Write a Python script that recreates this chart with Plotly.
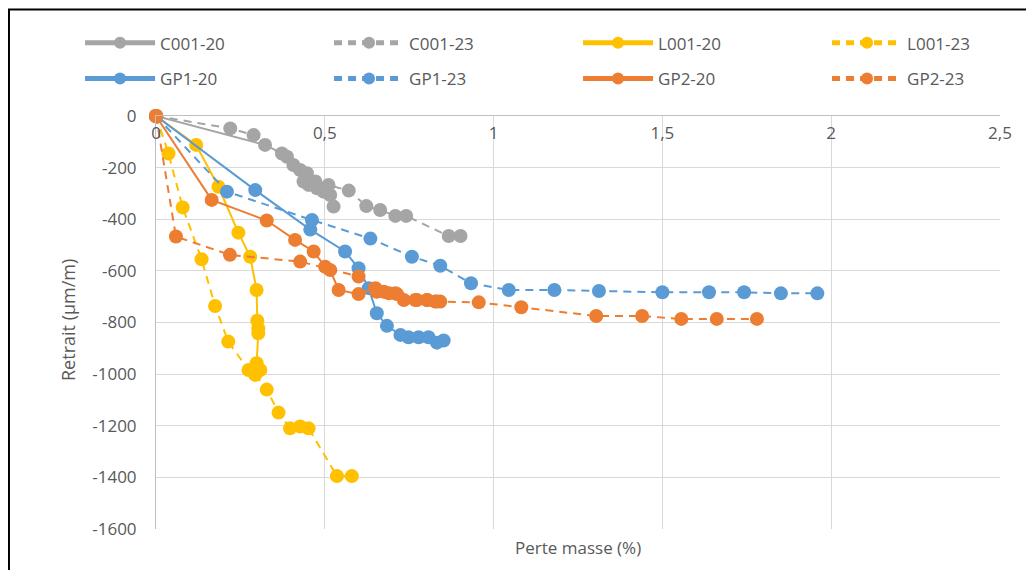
import plotly.graph_objects as go

# ---- data ----
c001_20_x = [0, 0.323, 0.373, 0.388, 0.407, 0.427, 0.437, 0.452, 0.477, 0.496, 0.516, 0.526]
c001_20_y = [0, -112, -145, -158, -190, -209, -254, -267, -280, -293, -306, -351]
c001_23_x = [0, 0.22, 0.289, 0.447, 0.472, 0.511, 0.571, 0.623, 0.664, 0.709, 0.741, 0.867, 0.902]
c001_23_y = [0, -48, -74, -222, -254, -267, -289, -349, -364, -387, -387, -465, -465]

l001_20_x = [0, 0.119, 0.185, 0.244, 0.279, 0.298, 0.300, 0.303, 0.303, 0.298, 0.309]
l001_20_y = [0, -112, -274, -452, -545, -674, -793, -823, -842, -958, -984]
l001_23_x = [0, 0.037, 0.079, 0.135, 0.175, 0.214, 0.274, 0.294, 0.328, 0.363, 0.397, 0.427, 0.452, 0.536, 0.58]
l001_23_y = [0, -145, -354, -555, -736, -874, -984, -1003, -1060, -1149, -1210, -1203, -1210, -1395, -1395]

gp1_20_x = [0, 0.294, 0.457, 0.56, 0.6, 0.63, 0.654, 0.684, 0.724, 0.748, 0.778, 0.807, 0.832, 0.852]
gp1_20_y = [0, -287, -440, -525, -590, -667, -764, -813, -848, -857, -857, -857, -878, -870]
gp1_23_x = [0, 0.21, 0.462, 0.635, 0.758, 0.842, 0.933, 1.045, 1.18, 1.312, 1.5, 1.638, 1.742, 1.851, 1.959]
gp1_23_y = [0, -293, -403, -475, -545, -580, -648, -674, -674, -678, -683, -683, -683, -687, -687]

gp2_20_x = [0, 0.165, 0.328, 0.412, 0.467, 0.501, 0.516, 0.541, 0.6, 0.65, 0.675, 0.709, 0.734, 0.773, 0.803, 0.827, 0.842]
gp2_20_y = [0, -325, -405, -480, -525, -584, -597, -674, -690, -667, -681, -687, -713, -713, -713, -719, -719]
gp2_23_x = [0, 0.059, 0.219, 0.427, 0.6, 0.654, 0.69, 0.714, 0.768, 0.803, 0.832, 0.956, 1.082, 1.304, 1.44, 1.556, 1.661, 1.78]
gp2_23_y = [0, -467, -538, -564, -622, -681, -687, -690, -713, -713, -719, -722, -741, -775, -775, -786, -786, -786]

x_tick_vals = [0, 0.5, 1, 1.5, 2, 2.5]
x_tick_text = ["0", "0,5", "1", "1,5", "2", "2,5"]
y_tick_vals = [0, -200, -400, -600, -800, -1000, -1200, -1400, -1600]
y_tick_text = ["0", "-200", "-400", "-600", "-800", "-1000", "-1200", "-1400", "-1600"]

GRAY = "#A5A5A5"
YELLOW = "#FFC000"
BLUE = "#5B9BD5"
ORANGE = "#ED7D31"
TXT = "#595959"
FONT = "Open Sans, Liberation Sans, sans-serif"

series = [
    ("C001-20", c001_20_x, c001_20_y, GRAY, "solid", "legend"),
    ("C001-23", c001_23_x, c001_23_y, GRAY, "8px,6px", "legend"),
    ("L001-20", l001_20_x, l001_20_y, YELLOW, "solid", "legend"),
    ("L001-23", l001_23_x, l001_23_y, YELLOW, "8px,6px", "legend"),
    ("GP1-20", gp1_20_x, gp1_20_y, BLUE, "solid", "legend2"),
    ("GP1-23", gp1_23_x, gp1_23_y, BLUE, "8px,6px", "legend2"),
    ("GP2-20", gp2_20_x, gp2_20_y, ORANGE, "solid", "legend2"),
    ("GP2-23", gp2_23_x, gp2_23_y, ORANGE, "8px,6px", "legend2"),
]

fig = go.Figure()
for i, (name, xs, ys, col, dash, lg) in enumerate(series):
    last_in_row = name in ("L001-23", "GP2-23")
    fig.add_trace(go.Scatter(
        x=xs, y=ys, name=name, mode="lines+markers",
        line=dict(color=col, width=2, dash=dash),
        marker=dict(color=col, size=14),
        cliponaxis=False, legend=lg,
        legendwidth=60 if last_in_row else None,
    ))

legend_common = dict(
    orientation="h", xanchor="left", yanchor="middle",
    font=dict(family=FONT, size=17, color=TXT),
    itemwidth=70, entrywidth=164, entrywidthmode="pixels",
    bgcolor="rgba(0,0,0,0)", itemsizing="constant",
)

# figure is drawn inside a page whose body has an 8px margin
fig.update_layout(
    width=1026, height=562,
    margin=dict(l=148, r=34, t=108, b=41),
    paper_bgcolor="white", plot_bgcolor="white",
    showlegend=True,
    legend=dict(x=-0.090, y=1.176, **legend_common),
    legend2=dict(x=-0.090, y=1.0896, **legend_common),
    xaxis=dict(
        range=[0, 2.5], side="top", ticklabelposition="inside",
        ticklabeloverflow="allow", ticklabelstandoff=12,
        tickvals=x_tick_vals, ticktext=x_tick_text,
        showgrid=True, gridcolor="#D9D9D9", gridwidth=1,
        showline=True, linecolor="#BFBFBF", linewidth=1,
        zeroline=False, ticks="",
        tickfont=dict(family=FONT, size=17, color=TXT),
        fixedrange=True,
    ),
    yaxis=dict(
        range=[-1600, 0],
        tickvals=y_tick_vals, ticktext=y_tick_text,
        showgrid=True, gridcolor="#D9D9D9", gridwidth=1,
        showline=True, linecolor="#BFBFBF", linewidth=1,
        zeroline=False, ticks="", ticklabelstandoff=15,
        tickfont=dict(family=FONT, size=17, color=TXT),
        fixedrange=True,
    ),
    annotations=[
        dict(text="Perte masse (%)", xref="paper", yref="paper",
             x=0.5, y=-0.046, xanchor="center", yanchor="middle",
             showarrow=False, font=dict(family=FONT, size=17, color=TXT)),
        dict(text="Retrait (µm/m)", xref="paper", yref="paper",
             x=-0.1043, y=0.506, xanchor="center", yanchor="middle", textangle=-90,
             showarrow=False, font=dict(family=FONT, size=18, color=TXT)),
    ],
    shapes=[
        dict(type="rect", xref="paper", yref="paper",
             x0=-0.1742, y0=-0.2, x1=1.1, y1=1.2579,
             line=dict(color="black", width=2), fillcolor="rgba(0,0,0,0)", layer="below"),
    ],
)

fig.write_html("out.html")
